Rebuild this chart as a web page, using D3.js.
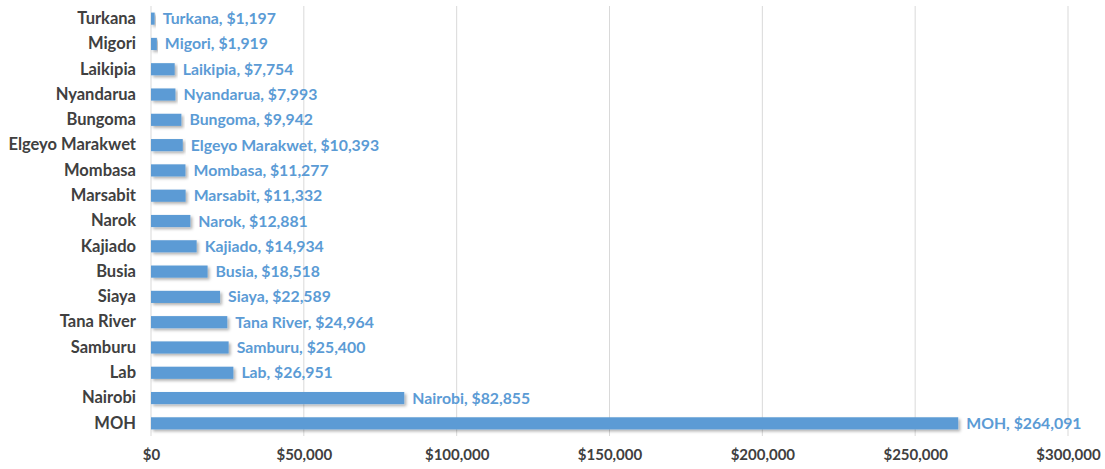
<!DOCTYPE html>
<html>
<head>
<meta charset="utf-8">
<script src="https://cdn.jsdelivr.net/npm/d3@7"></script>
<style>
  body { margin: 0; background: #fff; }
  text { font-family: Lato, "Open Sans", sans-serif; font-weight: bold; }
</style>
</head>
<body>
<div id="chart"></div>
<script>
var svgWidth = 1105;
var svgHeight = 469;

// data
var counties = ["Turkana", "Migori", "Laikipia", "Nyandarua", "Bungoma", "Elgeyo Marakwet",
  "Mombasa", "Marsabit", "Narok", "Kajiado", "Busia", "Siaya", "Tana River", "Samburu",
  "Lab", "Nairobi", "MOH"];
var amounts = [1197, 1919, 7754, 7993, 9942, 10393, 11277, 11332, 12881, 14934, 18518,
  22589, 24964, 25400, 26951, 82855, 264091];
var xTicks = [0, 50000, 100000, 150000, 200000, 250000, 300000];

var margin = { top: 6, right: 37, bottom: 33, left: 151 };
var width = svgWidth - margin.left - margin.right;
var height = svgHeight - margin.top - margin.bottom;

var rows = counties.map(function(c, i) { return { name: c, value: amounts[i] }; });

var svg = d3.select("#chart")
  .append("svg")
  .attr("width", svgWidth)
  .attr("height", svgHeight);

var defs = svg.append("defs");
var shadow = defs.append("filter")
  .attr("id", "shadow")
  .attr("x", "-5%").attr("y", "-30%")
  .attr("width", "115%").attr("height", "200%");
shadow.append("feDropShadow")
  .attr("dx", 2).attr("dy", 2)
  .attr("stdDeviation", 1.5)
  .attr("flood-color", "#000")
  .attr("flood-opacity", 0.3);

var chartGroup = svg.append("g")
  .attr("transform", `translate(${margin.left}, ${margin.top})`);

var xScale = d3.scaleLinear()
  .domain([0, 300000])
  .range([0, width]);

var yScale = d3.scaleBand()
  .domain(counties)
  .range([0, height])
  .paddingInner(0.52)
  .paddingOuter(0.26);

// gridlines
chartGroup.append("g")
  .selectAll("line")
  .data(xTicks)
  .enter()
  .append("line")
  .attr("x1", d => xScale(d))
  .attr("x2", d => xScale(d))
  .attr("y1", 0)
  .attr("y2", height)
  .attr("stroke", "#d9d9d9")
  .attr("stroke-width", 1);

// x axis labels
var fmt = d3.format("$,");
var xAxis = chartGroup.append("g")
  .attr("transform", `translate(0, ${height})`)
  .call(d3.axisBottom(xScale).tickValues(xTicks).tickFormat(fmt).tickSize(0).tickPadding(13));
xAxis.select(".domain").remove();
xAxis.selectAll("text")
  .attr("fill", "#404040")
  .style("font-size", "15px");

// y axis labels
var yAxis = chartGroup.append("g")
  .call(d3.axisLeft(yScale).tickSize(0).tickPadding(15));
yAxis.select(".domain").remove();
yAxis.selectAll("text")
  .attr("fill", "#404040")
  .style("font-size", "16.5px");

// bars
chartGroup.selectAll("rect.bar")
  .data(rows)
  .enter()
  .append("rect")
  .attr("class", "bar")
  .attr("x", xScale(0))
  .attr("y", d => yScale(d.name))
  .attr("width", d => xScale(d.value) - xScale(0))
  .attr("height", yScale.bandwidth())
  .attr("fill", "#5b9bd5")
  .attr("filter", "url(#shadow)");

// data labels
chartGroup.selectAll("text.lbl")
  .data(rows)
  .enter()
  .append("text")
  .attr("class", "lbl")
  .attr("x", d => xScale(d.value) + 8)
  .attr("y", d => yScale(d.name) + yScale.bandwidth() / 2)
  .attr("dy", "0.35em")
  .attr("fill", "#5b9bd5")
  .style("font-size", "15.8px")
  .text(d => d.name + ", " + fmt(d.value));
</script>
</body>
</html>
